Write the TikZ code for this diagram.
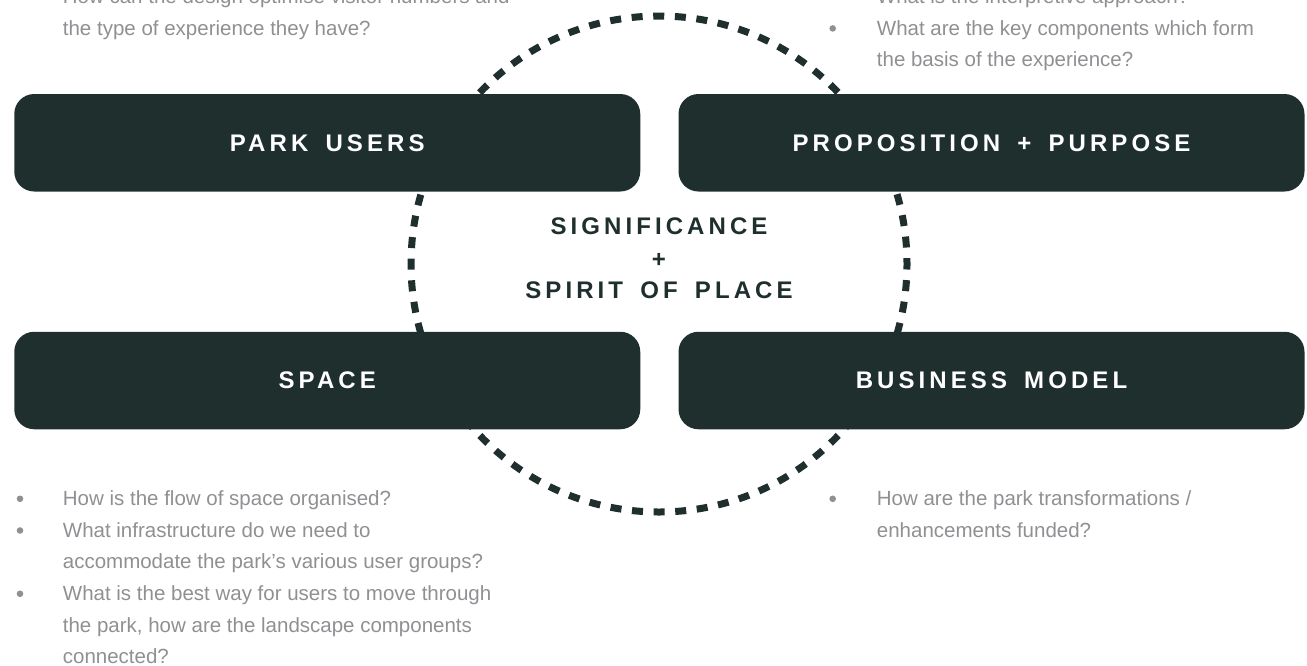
\documentclass[tikz,border=0pt]{standalone}
\usepackage{fontspec}
\setmainfont{Liberation Sans}
\newfontfamily\lblfont{Liberation Sans}[LetterSpace=17,WordSpace=1.6]
\definecolor{boxgreen}{RGB}{30,47,46}
\definecolor{txtgrey}{RGB}{142,144,147}
\begin{document}
\begin{tikzpicture}[x=1pt,y=-1pt,
  box/.style={fill=boxgreen, rounded corners=20pt, minimum width=626pt, minimum height=97.5pt, inner sep=0pt, draw=none, text=white, font=\lblfont\bfseries\fontsize{24}{28}\selectfont},
  ctr/.style={anchor=base, inner sep=0pt, text=boxgreen, font=\lblfont\bfseries\fontsize{24}{28}\selectfont},
  item/.style={anchor=base west, inner sep=0pt, text=txtgrey, font=\fontsize{20.5}{24}\selectfont},
  dot/.style={circle, fill=txtgrey, inner sep=0pt, minimum size=6.6pt},
  ring/.style={draw=boxgreen, line width=7pt, dash pattern=on 11pt off 10.64pt, dash phase=5.5pt}]
\useasboundingbox (0,0) rectangle (1307,665);

% dashed ring behind the boxes
\draw[ring] (659,264) circle (248);

% boxes
\node[box] (pu) at (327.25,142.75) {PARK USERS};
\node[box] (pp) at (991.5,142.75) {PROPOSITION + PURPOSE};
\node[box] (sp) at (327.25,380.5) {SPACE};
\node[box] (bm) at (991.5,380.5) {BUSINESS MODEL};

% centre text
\node[ctr] (c1) at (659,234.5) {SIGNIFICANCE};
\node[ctr] (c2) at (659,267) {+};
\node[ctr] (c3) at (659,298.5) {SPIRIT OF PLACE};

% top-left text
\node[dot] (tlb1) at (20,-3.2) {};
\node[item] (tl1) at (62.7,3.3) {How can the design optimise visitor numbers and};
\node[item] (tl2) at (62.7,35) {the type of experience they have?};

% top-right text
\node[dot] (trb1) at (832.7,-3.2) {};
\node[item] (tr1) at (876.7,3.3) {What is the interpretive approach?};
\node[dot] (trb2) at (832.7,28.4) {};
\node[item] (tr2) at (876.7,35) {What are the key components which form};
\node[item] (tr3) at (876.7,66.7) {the basis of the experience?};

% bottom-left text
\node[dot] (blb1) at (20,498.8) {};
\node[item] (bl1) at (62.7,505.3) {How is the flow of space organised?};
\node[dot] (blb2) at (20,530.5) {};
\node[item] (bl2) at (62.7,537) {What infrastructure do we need to};
\node[item] (bl3) at (62.7,568.7) {accommodate the park’s various user groups?};
\node[dot] (blb3) at (20,593.8) {};
\node[item] (bl4) at (62.7,600.3) {What is the best way for users to move through};
\node[item] (bl5) at (62.7,632) {the park, how are the landscape components};
\node[item] (bl6) at (62.7,663) {connected?};

% bottom-right text
\node[dot] (brb1) at (832.7,498.8) {};
\node[item] (br1) at (876.7,505.3) {How are the park transformations /};
\node[item] (br2) at (876.7,537) {enhancements funded?};
\end{tikzpicture}
\end{document}
